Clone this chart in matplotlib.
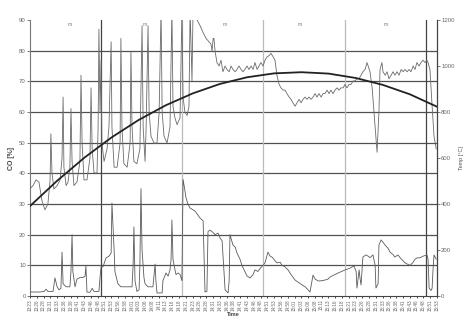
import numpy as np
import matplotlib
matplotlib.use("Agg")
import matplotlib.pyplot as plt

# =========================
# DATA (minutes after 13:23)
# =========================
temp_min = [0, 1.1, 2.2, 3.3, 4.4, 5.5, 6.6, 7.4, 7.7, 8.1, 8.8, 10.0, 11.1, 11.8, 12.2, 12.5,
            13.3, 14.0, 14.7, 15.1, 15.5, 16.2, 17.3, 18.4, 18.8, 19.2, 19.9, 21.0, 22.1, 22.5,
            22.9, 23.6, 24.7, 25.1, 25.4, 25.8, 26.2, 26.5, 27.3, 28.4, 29.1, 29.9, 30.2, 31.0,
            32.1, 33.2, 33.5, 33.9, 34.6, 35.8, 36.9, 37.2, 37.6, 38.3, 39.4, 40.5, 41.3, 41.7,
            42.4, 42.8, 43.5, 43.9, 44.6, 45.7, 46.8, 47.6, 48.3, 48.7, 49.4, 50.5, 51.6, 52.3,
            52.7, 53.4, 54.2, 55.3, 56.0, 56.4, 57.1, 57.9, 58.6, 59.0, 59.7, 60.1, 60.8, 61.6,
            62.7, 63.8, 64.9, 66.0, 66.7, 67.1, 67.5, 67.8, 68.2, 68.9, 69.7, 70.4, 71.1, 71.9,
            72.6, 73.4, 74.1, 74.8, 75.6, 76.3, 77.0, 77.8, 78.5, 79.2, 80.0, 80.7, 81.5, 82.2,
            82.9, 83.7, 84.4, 85.1, 85.9, 86.6, 87.4, 88.1, 88.8, 89.6, 90.3, 91.0, 91.8, 92.5,
            93.3, 94.0, 94.7, 95.5, 96.2, 96.9, 97.7, 98.4, 99.2, 99.9, 100.6, 101.4, 102.1,
            102.8, 103.6, 104.3, 105.1, 105.8, 106.5, 107.3, 108.0, 108.7, 109.5, 110.2, 110.9,
            111.7, 112.4, 113.2, 113.9, 114.6, 115.4, 116.1, 116.8, 117.6, 118.3, 119.1, 119.8,
            120.5, 121.3, 122.0, 122.7, 123.5, 124.2, 124.6, 125.3, 126.1, 127.2, 127.9, 128.6,
            129.0, 129.7, 130.1, 130.9, 131.6, 132.3, 133.1, 133.8, 134.5, 135.3, 136.0, 136.8,
            137.5, 138.2, 139.0, 139.7, 140.4, 141.2, 141.9, 142.6, 143.4, 144.1, 144.9, 145.6,
            146.3, 146.7, 147.4, 148.2, 148.9, 149.7]
temp_c = [467, 480, 505, 495, 415, 375, 400, 505, 705, 535, 465, 480, 505, 600, 865, 560,
          480, 495, 560, 815, 585, 480, 495, 585, 960, 665, 505, 505, 600, 905,
          640, 535, 535, 735, 1160, 800, 1025, 665, 585, 640, 735, 1105, 735, 560,
          560, 665, 1120, 735, 575, 560, 665, 1065, 735, 585, 575, 640, 1175, 735,
          585, 735, 1175, 800, 695, 665, 665, 800, 1250, 800, 695, 665, 735, 1250,
          825, 775, 745, 775, 1250, 865, 800, 785, 825, 1250, 935, 1250, 1250, 1200,
          1175, 1145, 1120, 1105, 1095, 1065, 1120, 1120, 1065, 1015, 1000, 1025, 975, 1000,
          985, 975, 1000, 985, 975, 985, 1000, 985, 975, 985, 1000, 985, 1000, 985,
          1015, 985, 1000, 1015, 1000, 1025, 1040, 1045, 1055, 1040, 1025, 960, 920, 905,
          895, 895, 880, 865, 855, 840, 825, 840, 855, 840, 855, 865, 855,
          865, 855, 865, 880, 865, 880, 865, 880, 880, 895, 880, 895,
          880, 895, 905, 895, 905, 905, 920, 905, 920, 920, 935, 935,
          945, 945, 960, 975, 985, 1015, 1000, 975, 905, 735, 625, 800,
          985, 1015, 975, 960, 975, 945, 960, 975, 960, 975, 960, 985,
          975, 985, 975, 985, 975, 1000, 985, 1015, 1000, 1015, 1025, 1015,
          1025, 1015, 985, 825, 695, 640]

co_min = [0, 3.7, 5.2, 5.9, 6.6, 8.5, 9.2, 10.0, 10.7, 11.4, 11.8, 12.2, 13.3, 14.7, 15.1,
          15.5, 15.8, 16.6, 17.3, 18.4, 19.5, 20.3, 20.6, 21.0, 22.1, 22.9, 23.6, 25.4, 25.8,
          26.2, 26.9, 28.0, 29.1, 29.9, 30.2, 31.0, 31.3, 32.4, 33.5, 35.0, 36.5, 37.6, 38.0,
          38.3, 38.7, 39.4, 40.2, 40.5, 40.9, 41.3, 42.0, 42.4, 43.5, 45.3, 46.1, 46.4, 46.8,
          48.7, 49.0, 50.1, 50.9, 51.6, 52.0, 52.3, 52.7, 53.1, 53.8, 54.6, 55.3, 56.0, 56.4,
          56.8, 57.5, 58.2, 59.0, 60.8, 62.7, 63.8, 64.1, 64.5, 65.2, 65.6, 66.3, 67.1, 68.2,
          69.3, 70.0, 70.8, 71.5, 71.9, 73.0, 73.4, 73.7, 74.8, 75.6, 76.3, 77.4, 78.1, 79.2,
          80.0, 81.1, 82.2, 82.9, 84.0, 84.8, 85.9, 86.6, 87.7, 88.5, 89.2, 90.3, 91.0, 92.2,
          92.9, 94.0, 95.1, 96.2, 97.7, 98.8, 100.3, 101.4, 102.5, 103.2, 104.3, 105.1, 106.2,
          107.6, 108.7, 109.8, 110.6, 112.4, 114.3, 116.1, 118.0, 119.4, 120.2, 120.5, 121.3,
          121.6, 122.0, 122.7, 123.8, 124.6, 125.3, 126.4, 127.2, 127.5, 128.3, 128.6, 129.4,
          130.1, 130.9, 132.0, 132.7, 133.8, 134.5, 135.6, 136.4, 137.5, 138.2, 139.3, 140.1,
          141.2, 141.9, 142.6, 143.8, 144.9, 145.6, 146.3, 146.7, 147.1, 147.8, 148.2, 148.5,
          148.9, 149.7]
co_pct = [1.3, 1.3, 1.5, 2.2, 1.5, 1.5, 5.9, 3, 2, 2.5, 14.3, 4, 3, 3, 8,
          20, 8, 3, 5.5, 6, 6, 6.5, 9.8, 1.3, 1.2, 2.5, 1.5, 1.5, 6,
          9.5, 9.5, 12.4, 13, 14, 30.3, 15, 8, 4, 3, 3, 3, 3, 10,
          22.5, 5, 1.5, 2, 10, 35, 15, 6, 4, 3, 3, 10.4, 5, 1,
          1, 5, 7.5, 6.5, 8.5, 12, 24.8, 12, 10, 7, 7.5, 7, 5, 38,
          36, 32, 30, 28.7, 27.7, 25.4, 24.5, 15, 1.3, 1.5, 21, 21.5, 21, 20,
          20.5, 19, 18, 8, 2, 1, 5, 20, 16.6, 16, 14, 12, 10, 8,
          6.5, 5.9, 7, 8.5, 8, 9, 10, 10.8, 14.3, 13, 12.7, 11.5, 10.8, 11,
          10, 9.5, 8.5, 7, 5.2, 4.5, 3.6, 3, 2, 1.3, 6.8, 5.5, 4.9,
          5, 5.2, 5.5, 6.2, 7, 7.8, 8.5, 9.1, 9.8, 8, 2.6, 8.5,
          6, 3.6, 12.7, 13.4, 13, 12.5, 13.4, 10, 2.6, 4, 16.6, 18.3,
          17.5, 16.6, 15.5, 14.3, 13.5, 12.7, 13.4, 12.5, 11.5, 10.8, 10.3, 10,
          11, 12, 12.4, 12.5, 13, 13.2, 13.4, 12, 2.6, 1.8, 2.5, 8,
          13.4, 12]

trend_min = [0, 10, 20, 30, 40, 50, 60, 70, 80, 90, 100, 110, 120, 130, 140, 150]
trend_c = [391, 501, 601, 689, 765, 829, 881, 922, 951, 968, 973, 967, 948, 918, 877, 823]

vline_min = [26, 56, 86, 116, 146]
vline_col = ["#444444", "#bbbbbb", "#bbbbbb", "#bbbbbb", "#444444"]
mark_min = [14.7, 42.4, 71.9, 99.5, 131.0]

tick_min = np.arange(0, 150.01, 2.5)
tick_lbl = []
for t in tick_min:
    m = int(23 + t + 0.5)
    tick_lbl.append(f"{13 + m // 60}:{m % 60:02d}")

# =========================
# PLOT
# =========================
plt.rcParams["font.family"] = ["Liberation Sans", "DejaVu Sans"]
fig = plt.figure(figsize=(4.64, 3.27), dpi=100)
ax = fig.add_axes([30 / 464, 1 - 296 / 327, 407 / 464, 276 / 327])
ax2 = ax.twinx()

for v in range(10, 90, 10):
    ax.axhline(v, color="#505050", lw=0.9, zorder=1)
for m, c in zip(vline_min, vline_col):
    ax.axvline(m, color=c, lw=0.9, zorder=1)

ax.plot(co_min, co_pct, color="#5a5a5a", lw=0.6, zorder=3)
ax2.plot(temp_min, temp_c, color="#6a6a6a", lw=0.6, zorder=3)
ax2.plot(trend_min, trend_c, color="#222222", lw=1.3, zorder=4)

for m in mark_min:
    ax.text(m, 88.6, "m", fontsize=3.5, color="#777777", ha="center", va="center")

ax.set_xlim(0, 150)
ax.set_ylim(0, 90)
ax2.set_ylim(0, 1200)
ax.set_yticks(range(0, 91, 10))
ax2.set_yticks(range(0, 1201, 200))
ax.set_xticks(tick_min)
ax.set_xticklabels(tick_lbl, rotation=90, fontsize=3.3, color="#666666")
ax.tick_params(axis="y", labelsize=4.3, colors="#666666", length=2, width=0.6, pad=1)
ax2.tick_params(axis="y", labelsize=4.3, colors="#666666", length=2, width=0.6, pad=1)
ax.tick_params(axis="x", length=1.5, width=0.5, pad=1)

ax.spines["top"].set_visible(False)
ax2.spines["top"].set_visible(False)
ax.spines["left"].set_color("#777777")
ax.spines["bottom"].set_color("#444444")
ax2.spines["right"].set_color("#444444")
ax2.spines["left"].set_visible(False)
ax2.spines["bottom"].set_visible(False)

ax.set_ylabel("CO [%]", fontsize=5, fontweight="bold", color="#444444", labelpad=3)
ax2.set_ylabel("Temp [°C]", fontsize=4, color="#555555", labelpad=3)
ax.set_xlabel("Time", fontsize=4, fontweight="bold", color="#444444", labelpad=1)

plt.savefig("out.png", dpi=100)
plt.close()
